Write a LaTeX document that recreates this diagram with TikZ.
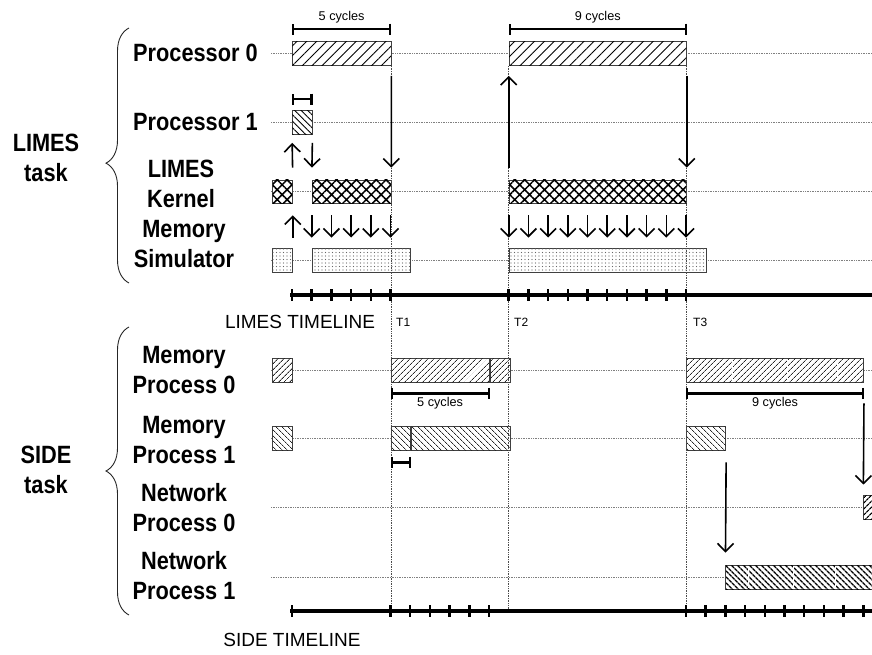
\documentclass[tikz,border=0pt]{standalone}
\usepackage{fontspec}
\setmainfont{Liberation Sans}
\newfontfamily\narrowfont[FakeStretch=0.87]{Liberation Sans}
\usetikzlibrary{arrows.meta,patterns.meta,decorations.pathreplacing}
\def\cy{19.7}

\begin{document}
\begin{tikzpicture}[x=1pt,y=-1pt,
  lab/.style={font=\narrowfont\bfseries\fontsize{25}{30}\selectfont,align=center,inner sep=0pt},
  cyc/.style={font=\fontsize{12.7}{14}\selectfont,inner sep=1pt},
  tname/.style={font=\fontsize{19}{22}\selectfont,inner sep=0pt},
  tmark/.style={font=\fontsize{12}{14}\selectfont,inner sep=0pt,anchor=west},
  bar/.style={draw=black!75,line width=0.8pt,fill=white,minimum height=24pt,inner sep=0pt,anchor=west},
  procA/.style={postaction={pattern={Lines[angle=45,distance=7pt,line width=0.9pt]},pattern color=black}},
  procB/.style={postaction={pattern={Lines[angle=-45,distance=4.6pt,line width=0.9pt]},pattern color=black}},
  kern/.style={postaction={pattern={Hatch[angle=45,distance=7pt,line width=1.5pt]},pattern color=black}},
  memsim/.style={postaction={pattern={Dots[distance=3.5pt,radius=0.55pt]},pattern color=black!60}},
  mprocA/.style={postaction={pattern={Lines[angle=45,distance=4pt,line width=0.8pt]},pattern color=black!85}},
  mprocB/.style={postaction={pattern={Lines[angle=-45,distance=4pt,line width=0.8pt]},pattern color=black!85}},
  nprocA/.style={postaction={pattern={Lines[angle=45,distance=4pt,line width=1.3pt]},pattern color=black}},
  nprocB/.style={postaction={pattern={Lines[angle=-45,distance=4pt,line width=1.4pt]},pattern color=black}},
  guide/.style={densely dotted,black!50,line width=0.7pt},
  vline/.style={densely dotted,black!70,line width=0.7pt},
  tline/.style={line width=4pt},
  tick/.style={line width=2.5pt},
  arr/.style={-{Straight Barb[length=8pt,width=16pt]},line width=1.6pt},
  dim/.style={{Bar[width=11pt]}-{Bar[width=11pt]},line width=2.2pt},
  brace/.style={decorate,decoration={brace,amplitude=23pt,#1},line width=0.9pt,black!85},
  brace/.default={aspect=0.5}]
\useasboundingbox (0,0) rectangle (872,655);

% row guides
\foreach \y in {53.5,122.5,191.5,260,370,438,507,577}
  \draw[guide] (271,\y) -- (872,\y);

% LIMES bars
\node[bar,procA,minimum width=5*\cy*1pt] (p0a) at (292,53.5) {};
\node[bar,procA,minimum width=9*\cy*1pt] (p0b) at (508.7,53.5) {};
\node[bar,procB,minimum width=\cy*1pt] (p1) at (292,122.5) {};
\node[bar,kern,minimum width=\cy*1pt,minimum height=23pt] (k1) at (272.3,191.5) {};
\node[bar,kern,minimum width=4*\cy*1pt,minimum height=23pt] (k2) at (311.7,191.5) {};
\node[bar,kern,minimum width=9*\cy*1pt,minimum height=23pt] (k3) at (508.7,191.5) {};
\node[bar,memsim,minimum width=\cy*1pt] (m1) at (272.3,260) {};
\node[bar,memsim,minimum width=5*\cy*1pt] (m2) at (311.7,260) {};
\node[bar,memsim,minimum width=10*\cy*1pt] (m3) at (508.7,260) {};

% SIDE bars
\node[bar,mprocA,minimum width=\cy*1pt] (mp0a) at (272.3,370) {};
\node[bar,mprocA,minimum width=5*\cy*1pt] (mp0b) at (390.5,370) {};
\node[bar,mprocA,minimum width=\cy*1pt] (mp0c) at (mp0b.east) {};
\node[bar,mprocA,minimum width=9*\cy*1pt] (mp0d) at (686,370) {};
\node[bar,mprocB,minimum width=\cy*1pt] (mp1a) at (272.3,438) {};
\node[bar,mprocB,minimum width=\cy*1pt] (mp1b) at (390.5,438) {};
\node[bar,mprocB,minimum width=5*\cy*1pt] (mp1c) at (mp1b.east) {};
\node[bar,mprocB,minimum width=2*\cy*1pt] (mp1d) at (686,438) {};
\node[bar,nprocA,minimum width=20pt] (np0) at (863.3,507) {};
\node[bar,nprocB,minimum width=8*\cy*1pt] (np1) at (725.4,577) {};
\foreach \x in {732,787,837} \draw[white,line width=0.8pt] (\x,359) -- (\x,381);
\foreach \x in {748,793,835} \draw[white,line width=0.8pt] (\x,566) -- (\x,588);

% timelines
\coordinate (lt) at (290,295);
\coordinate (st) at (290,611);
\draw[vline] (p0a.south east) -- (p0a.south east |- st);
\draw[vline] (p0b.south west) -- (p0b.south west |- st);
\draw[vline] (p0b.south east) -- (p0b.south east |- st);
\draw[tline] (lt) -- ++(590,0);
\draw[tline] (st) -- ++(590,0);
\foreach \i in {0,...,5} \draw[tick] (292+\i*\cy,289) -- (292+\i*\cy,301);
\foreach \i in {0,...,9} \draw[tick] (508.7+\i*\cy,289) -- (508.7+\i*\cy,301);
\draw[tick] (292,605) -- (292,617);
\foreach \i in {0,...,5} \draw[tick] (390.5+\i*\cy,605) -- (390.5+\i*\cy,617);
\foreach \i in {0,...,9} \draw[tick] (686+\i*\cy,605) -- (686+\i*\cy,617);
\node[tname] (ltl) at (300,322) {LIMES TIMELINE};
\node[tname] (stl) at (292,640) {SIDE TIMELINE};
\node[tmark] (t1) at (396,322) {T1};
\node[tmark] (t2) at (514,322) {T2};
\node[tmark] (t3) at (693,322) {T3};

% LIMES arrows
\draw[arr,shorten <=12pt,shorten >=8pt] (k1.north east) -- (p1.south west);
\draw[arr,shorten <=8pt,shorten >=12pt] (p1.south east) -- (k2.north west);
\draw[arr,shorten <=10pt,shorten >=12pt] (p0a.south east) -- (k2.north east);
\draw[arr,shorten <=12pt,shorten >=10pt] (k3.north west) -- (p0b.south west);
\draw[arr,shorten <=10pt,shorten >=12pt] (p0b.south east) -- (k3.north east);
\draw[arr,shorten <=10pt,shorten >=12pt] (m1.north east) -- (k1.south east);
\foreach \i in {0,...,4}
  \draw[arr,shorten <=12pt,shorten >=10pt] ([xshift=\i*\cy*1pt]k2.south west) -- ([xshift=\i*\cy*1pt]m2.north west);
\foreach \i in {0,...,9}
  \draw[arr,shorten <=12pt,shorten >=10pt] ([xshift=\i*\cy*1pt]k3.south west) -- ([xshift=\i*\cy*1pt]m3.north west);

% SIDE arrows
\draw[arr,shorten <=21pt,shorten >=10pt] (mp0d.south east) -- (np0.north west);
\draw[arr,shorten <=12pt,shorten >=12pt] (mp1d.south east) -- (np1.north west);

% cycle brackets
\draw[dim] ([yshift=12pt]p0a.north west) -- ([yshift=12pt]p0a.north east) node[cyc,midway,above=4pt] (c5a) {5 cycles};
\draw[dim] ([yshift=12pt]p0b.north west) -- ([yshift=12pt]p0b.north east) node[cyc,midway,above=4pt] (c9a) {9 cycles};
\draw[dim] ([yshift=11pt]p1.north west) -- ([yshift=11pt]p1.north east);
\draw[dim] ([yshift=-11pt]mp0b.south west) -- ([yshift=-11pt]mp0b.south east) node[cyc,midway,below=2pt] (c5b) {5 cycles};
\draw[dim] ([yshift=-11pt]mp0d.south west) -- ([yshift=-11pt]mp0d.south east) node[cyc,midway,below=2pt] (c9b) {9 cycles};
\draw[dim] ([yshift=-12pt]mp1b.south west) -- ([yshift=-12pt]mp1b.south east);

% row labels
\node[lab,anchor=west] (lp0) at (133,52.5) {Processor 0};
\node[lab,anchor=west] (lp1) at (133,122.5) {Processor 1};
\node[lab] (lk) at (181,183.5) {LIMES\\Kernel};
\node[lab] (lm) at (184,244) {Memory\\Simulator};
\node[lab] (lmp0) at (184,370) {Memory\\Process 0};
\node[lab] (lmp1) at (184,440) {Memory\\Process 1};
\node[lab] (lnp0) at (184,508) {Network\\Process 0};
\node[lab] (lnp1) at (184,576) {Network\\Process 1};

% task groups
\draw[brace={aspect=0.47}] (129,283) -- (129,28);
\draw[brace] (129,615) -- (129,327);
\node[lab] (limes) at (46,158) {LIMES\\task};
\node[lab] (side) at (46,470) {SIDE\\task};
\end{tikzpicture}
\end{document}
